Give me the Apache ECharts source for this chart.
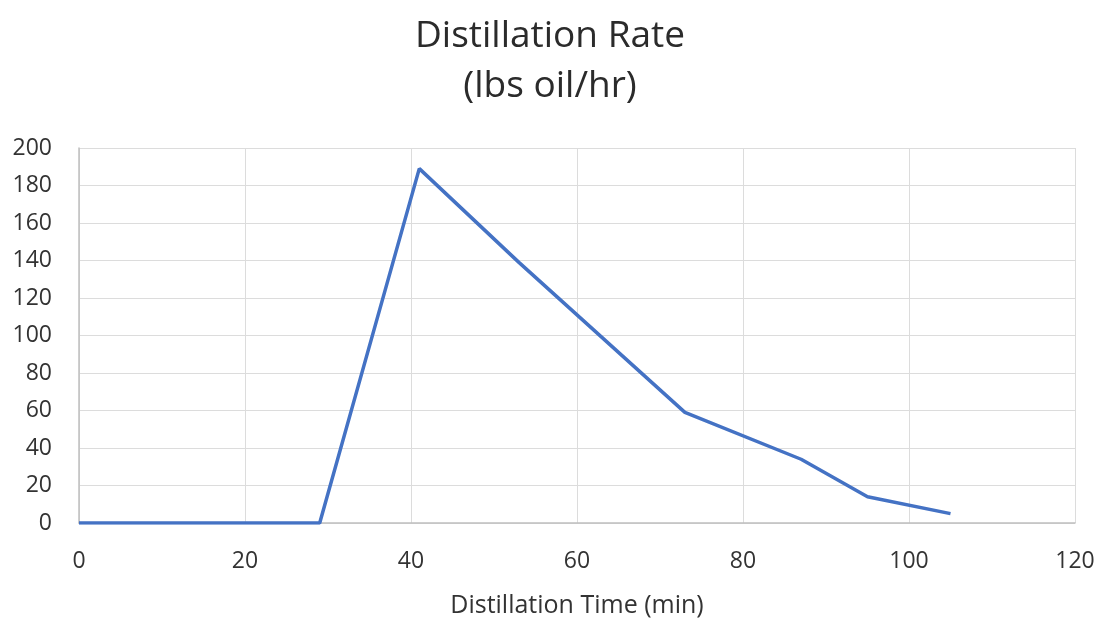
<!DOCTYPE html>
<html>
<head>
<meta charset="utf-8">
<script src="https://cdn.jsdelivr.net/npm/echarts@6/dist/echarts.min.js"></script>
<style>
  html, body { margin: 0; padding: 0; background: #fff; }
  #chart { width: 1100px; height: 623px; }
</style>
</head>
<body>
<div id="chart"></div>
<script>
// Distillation run: time (min) vs. oil rate (lbs oil/hr)
const timeMin = [0, 29, 41, 53, 73, 87, 95, 105];
const rateLbsHr = [0, 0, 189, 139, 59, 34, 14, 5];
const xTicks = [0, 20, 40, 60, 80, 100, 120];
const yTicks = [0, 20, 40, 60, 80, 100, 120, 140, 160, 180, 200];

const points = timeMin.map((t, i) => [t, rateLbsHr[i]]);
const font = '"Open Sans", "Noto Sans", sans-serif';

const chart = echarts.init(document.getElementById('chart'), null, { renderer: 'canvas' });
chart.setOption({
  animation: false,
  backgroundColor: '#ffffff',
  title: {
    text: 'Distillation Rate\n(lbs oil/hr)',
    left: 'center',
    top: 6,
    textStyle: {
      fontFamily: font,
      fontSize: 37,
      fontWeight: 'normal',
      color: '#2b2b2b',
      lineHeight: 50
    }
  },
  grid: { left: 79, right: 25, top: 148, bottom: 100 },
  xAxis: {
    type: 'value',
    min: xTicks[0],
    max: xTicks[xTicks.length - 1],
    interval: xTicks[1] - xTicks[0],
    name: 'Distillation Time (min)',
    nameLocation: 'middle',
    nameGap: 70,
    nameTextStyle: { fontFamily: font, fontSize: 25, color: '#333333' },
    axisLine: { show: true, lineStyle: { color: '#bfbfbf', width: 1.5 } },
    axisTick: { show: false },
    axisLabel: { fontFamily: font, fontSize: 23, color: '#333333', margin: 27 },
    splitLine: { show: true, lineStyle: { color: '#dcdcdc', width: 1 } }
  },
  yAxis: {
    type: 'value',
    min: yTicks[0],
    max: yTicks[yTicks.length - 1],
    interval: yTicks[1] - yTicks[0],
    axisLine: { show: true, lineStyle: { color: '#bfbfbf', width: 1.5 } },
    axisTick: { show: false },
    axisLabel: { fontFamily: font, fontSize: 23, color: '#333333', margin: 27 },
    splitLine: { show: true, lineStyle: { color: '#dcdcdc', width: 1 } }
  },
  series: [{
    type: 'line',
    data: points,
    showSymbol: false,
    symbol: 'none',
    lineStyle: { color: '#4472c4', width: 3.5 },
    itemStyle: { color: '#4472c4' }
  }]
});
</script>
</body>
</html>
